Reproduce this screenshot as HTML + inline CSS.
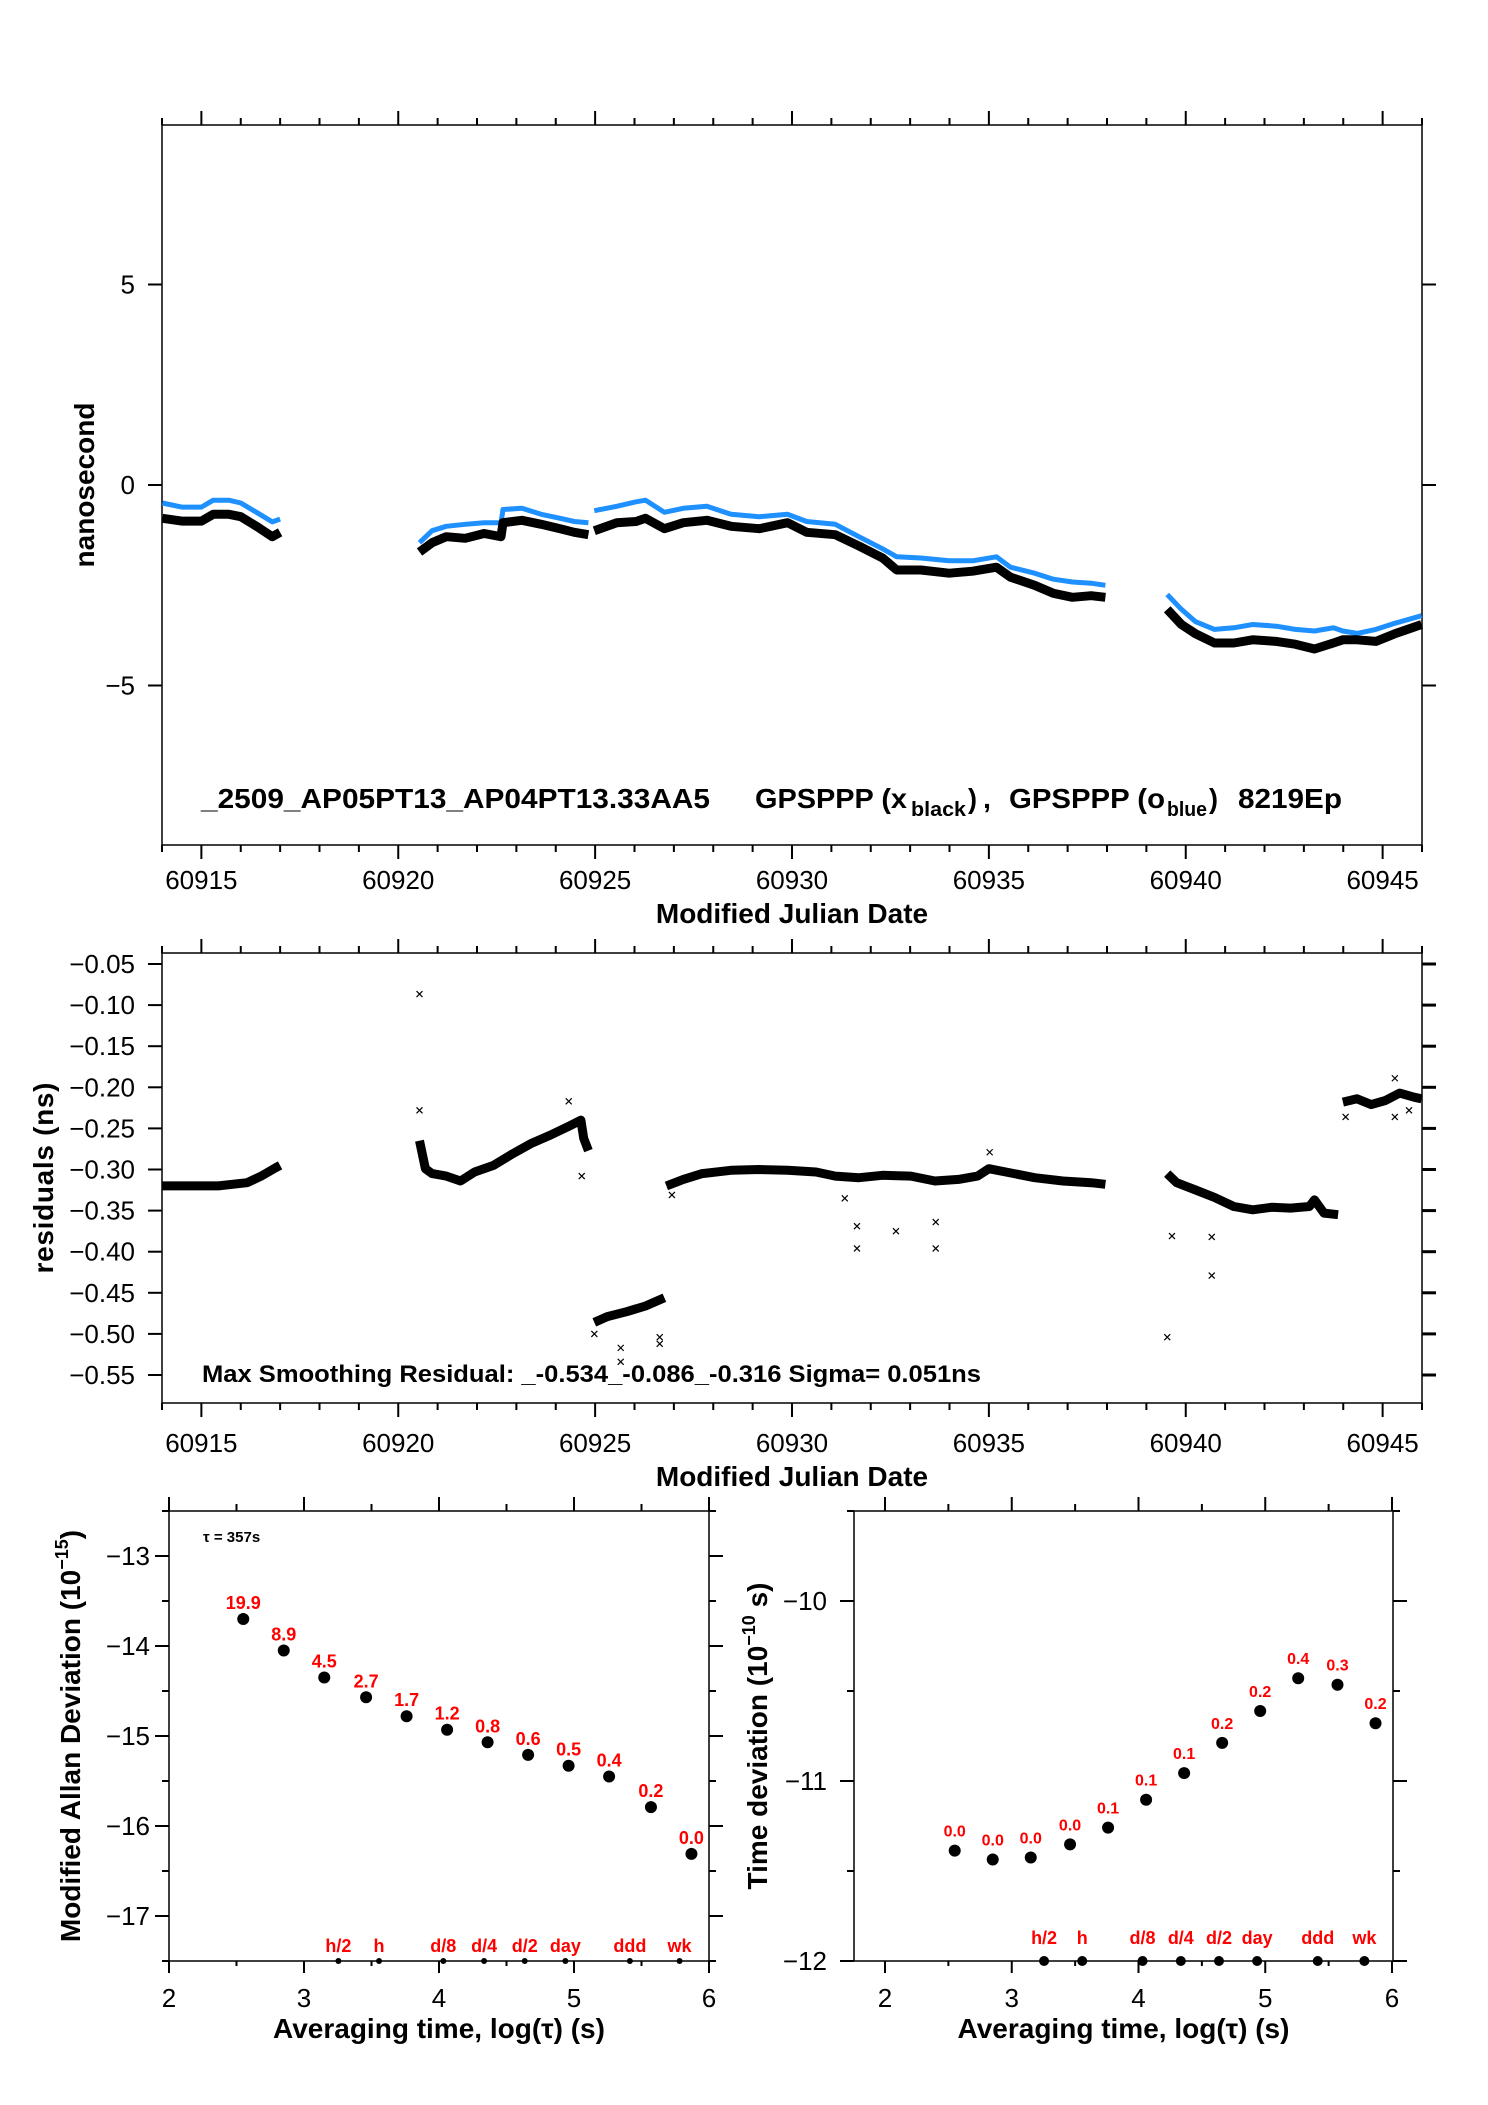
<!DOCTYPE html>
<html><head><meta charset="utf-8"><style>
html,body{margin:0;padding:0;background:#fff;}
svg{display:block;font-family:"Liberation Sans",Arial,sans-serif;}
</style></head><body>
<svg id="fig" width="1488" height="2105" viewBox="0 0 1488 2105" xmlns="http://www.w3.org/2000/svg">
<rect width="1488" height="2105" fill="#fff"/>
<g id="g1"></g>
<g id="g2"></g>
<g id="g3"></g>
<g id="g4"></g>
</svg>
<script>
// ---------- Top plot data (MJD, ns) ----------
const blackSeg1Mjd=[60914.01,60914.5,60915.0,60915.3,60915.7,60916.0,60916.4,60916.8,60917.0];
const blackSeg1Val=[-0.83,-0.90,-0.90,-0.73,-0.73,-0.79,-1.03,-1.29,-1.18];
const blueSeg1Val=[-0.45,-0.55,-0.55,-0.38,-0.38,-0.45,-0.68,-0.92,-0.85];
const blackSeg2Mjd=[60920.54,60920.86,60921.22,60921.70,60922.18,60922.61,60922.66,60923.14,60923.63,60924.11,60924.47,60924.83];
const blackSeg2Val=[-1.67,-1.44,-1.29,-1.33,-1.21,-1.29,-0.94,-0.88,-0.98,-1.09,-1.18,-1.24];
const blueSeg2Val=[-1.44,-1.14,-1.03,-0.98,-0.94,-0.94,-0.61,-0.58,-0.73,-0.83,-0.91,-0.94];
const blackSeg3Mjd=[60924.98,60925.55,60926.04,60926.28,60926.76,60927.24,60927.84,60928.45,60929.17,60929.89,60930.37,60931.10,60931.70,60932.30,60932.66,60933.27,60933.99,60934.59,60935.19,60935.55,60936.16,60936.64,60937.12,60937.60,60937.96];
const blackSeg3Val=[-1.14,-0.94,-0.91,-0.83,-1.09,-0.94,-0.88,-1.03,-1.09,-0.94,-1.18,-1.24,-1.52,-1.82,-2.12,-2.12,-2.20,-2.15,-2.05,-2.30,-2.50,-2.70,-2.80,-2.76,-2.80];
const blueSeg3Val=[-0.64,-0.53,-0.42,-0.38,-0.68,-0.58,-0.53,-0.73,-0.79,-0.73,-0.91,-0.98,-1.29,-1.59,-1.79,-1.82,-1.89,-1.89,-1.79,-2.05,-2.20,-2.35,-2.42,-2.45,-2.50];
const blackSeg4Mjd=[60939.53,60939.89,60940.25,60940.73,60941.22,60941.70,60942.30,60942.78,60943.27,60943.75,60943.99,60944.35,60944.83,60945.31,60945.99];
const blackSeg4Val=[-3.10,-3.48,-3.71,-3.94,-3.94,-3.86,-3.90,-3.97,-4.09,-3.94,-3.86,-3.86,-3.90,-3.71,-3.48];
const blueSeg4Val=[-2.73,-3.10,-3.41,-3.60,-3.56,-3.48,-3.52,-3.60,-3.64,-3.56,-3.64,-3.70,-3.60,-3.45,-3.26];
const topYTicks=[5,0,-5];
const mjdTickLabels=[60915,60920,60925,60930,60935,60940,60945];

// ---------- Residuals data ----------
const resSegMjd=[
 [60914.01,60915.43,60916.16,60916.52,60916.88,60917.0],
 [60920.54,60920.69,60920.86,60921.22,60921.58,60921.94,60922.42,60922.90,60923.39,60923.87,60924.35,60924.64,60924.71,60924.83],
 [60924.98,60925.31,60925.80,60926.28,60926.76],
 [60926.81,60927.24,60927.72,60928.45,60929.17,60929.89,60930.61,60931.10,60931.70,60932.30,60933.02,60933.63,60934.23,60934.71,60935.0,60935.43,60936.16,60936.88,60937.60,60937.96],
 [60939.53,60939.77,60940.25,60940.73,60941.22,60941.70,60942.18,60942.66,60943.14,60943.27,60943.51,60943.87],
 [60943.99,60944.35,60944.71,60945.07,60945.43,60945.80,60945.99]];
const resSegVal=[
 [-0.320,-0.320,-0.316,-0.308,-0.298,-0.295],
 [-0.265,-0.299,-0.305,-0.308,-0.314,-0.303,-0.295,-0.281,-0.268,-0.258,-0.247,-0.240,-0.262,-0.277],
 [-0.486,-0.479,-0.473,-0.466,-0.456],
 [-0.320,-0.312,-0.305,-0.301,-0.300,-0.301,-0.303,-0.308,-0.310,-0.307,-0.308,-0.314,-0.312,-0.308,-0.299,-0.303,-0.310,-0.314,-0.316,-0.318],
 [-0.305,-0.316,-0.325,-0.334,-0.345,-0.349,-0.346,-0.347,-0.345,-0.337,-0.353,-0.355],
 [-0.218,-0.214,-0.221,-0.216,-0.207,-0.212,-0.214]];
const outMjd=[60920.54,60920.54,60924.33,60924.66,60924.98,60925.65,60925.65,60926.64,60926.64,60931.34,60931.65,60931.65,60932.64,60933.65,60933.65,60939.53,60939.65,60940.66,60940.66,60945.31,60945.31,60945.67,60944.06,60926.95,60935.02];
const outVal=[-0.0866,-0.228,-0.217,-0.308,-0.500,-0.517,-0.534,-0.504,-0.512,-0.335,-0.369,-0.396,-0.375,-0.364,-0.396,-0.504,-0.381,-0.382,-0.429,-0.189,-0.236,-0.228,-0.236,-0.331,-0.279];
const resYTicks=[-0.05,-0.10,-0.15,-0.20,-0.25,-0.30,-0.35,-0.40,-0.45,-0.50,-0.55];

// ---------- Stability data ----------
const logTau=[2.55,2.85,3.15,3.46,3.76,4.06,4.36,4.66,4.96,5.26,5.57,5.87];
const mdevVal=[-13.70,-14.05,-14.35,-14.57,-14.78,-14.93,-15.07,-15.21,-15.33,-15.45,-15.79,-16.31];
const mdevLabels=["19.9","8.9","4.5","2.7","1.7","1.2","0.8","0.6","0.5","0.4","0.2","0.0"];
const tdevVal=[-11.387,-11.436,-11.425,-11.352,-11.259,-11.104,-10.956,-10.788,-10.611,-10.429,-10.465,-10.679];
const tdevLabels=["0.0","0.0","0.0","0.0","0.1","0.1","0.1","0.2","0.2","0.4","0.3","0.2"];
const markerNames=["h/2","h","d/8","d/4","d/2","day","ddd","wk"];
const markerLog=[3.255,3.556,4.032,4.334,4.635,4.936,5.414,5.782];
const mdevYTicks=[-13,-14,-15,-16,-17];
const tdevYTicks=[-10,-11,-12];
const logXTicks=[2,3,4,5,6];

const NS="http://www.w3.org/2000/svg";
function mk(parent,tag,attrs,txt){const e=document.createElementNS(NS,tag);for(const k in attrs)e.setAttribute(k,attrs[k]);if(txt!==undefined)e.textContent=txt;parent.appendChild(e);return e;}

const P1={l:162,r:1422,t:125,b:845,x:d=>162+(d-60914)*39.375,y:v=>485-v*40.1};
const P2={l:162,r:1422,t:953,b:1403,x:d=>162+(d-60914)*39.375,y:v=>964+(-0.05-v)*822};
const P3={l:169,r:709,t:1511,b:1961,x:l=>169+(l-2)*135,y:v=>1556+(-13-v)*90};
const P4={l:854,r:1393,t:1511,b:1961,x:l=>885+(l-2)*126.75,y:v=>1601+(-10-v)*180};

function frame(g,P){
  const f=mk(g,'rect',{x:P.l,y:P.t,width:P.r-P.l,height:P.b-P.t,fill:'none',stroke:'#000','stroke-width':1.5});
  
  
}
function tick(g,x1,y1,x2,y2,w){const t=mk(g,'line',{x1:x1,y1:y1,x2:x2,y2:y2,stroke:'#000','stroke-width':w||2});
  
  }
function txt(g,x,y,s,size,opts){const a={x:x,y:y,'font-size':size,fill:'#000'};Object.assign(a,opts||{});const t=mk(g,'text',a,s);return t;}

// ================= TOP PLOT =================
(function(){
  const g=document.getElementById('g1');const P=P1;
  frame(g,P);
  for(let d=60914;d<=60946;d++){const X=P.x(d);const maj=d%5===0;
    tick(g,X,P.t,X,P.t-(maj?14:7));tick(g,X,P.b,X,P.b+(maj?14:7));}
  topYTicks.forEach(v=>{const Y=P.y(v);tick(g,P.l,Y,P.l-14,Y);tick(g,P.r,Y,P.r+14,Y);
    const t=txt(g,135,Y+9,(v<0?'\u2212':'')+Math.abs(v),26,{'text-anchor':'end'});
    
    });
  mjdTickLabels.forEach(d=>{const t=txt(g,P.x(d),889,String(d),26,{'text-anchor':'middle'});
    
    });
  const xt=txt(g,792,923,'Modified Julian Date',28,{'text-anchor':'middle','font-weight':'bold'});
  
  
  const yt=txt(g,0,0,'nanosecond',28,{'text-anchor':'middle','font-weight':'bold',transform:'translate(94,485) rotate(-90)'});
  
  
  const segs=[[blackSeg1Mjd,blackSeg1Val,blueSeg1Val],[blackSeg2Mjd,blackSeg2Val,blueSeg2Val],[blackSeg3Mjd,blackSeg3Val,blueSeg3Val],[blackSeg4Mjd,blackSeg4Val,blueSeg4Val]];
  segs.forEach((s,i)=>{
    const pb=s[0].map((d,j)=>P.x(d).toFixed(1)+','+P.y(s[2][j]).toFixed(1)).join(' ');
    const lb=mk(g,'polyline',{points:pb,fill:'none',stroke:'#1e90ff','stroke-width':5,'stroke-linejoin':'round'});
    
    
    const pk=s[0].map((d,j)=>P.x(d).toFixed(1)+','+P.y(s[1][j]).toFixed(1)).join(' ');
    const lk=mk(g,'polyline',{points:pk,fill:'none',stroke:'#000','stroke-width':9,'stroke-linejoin':'round'});
    
    
  });
  const tt=mk(g,'text',{x:201,y:808,'font-size':28,'font-weight':'bold'});
  
  
  const parts=[[201,'_2509_AP05PT13_AP04PT13.33AA5',509,0,28],[755,'GPSPPP (x',152,0,28],[911,'black',55,8,20],[968,')',9,0,28],[983,',',8,0,28],[1009,'GPSPPP (o',156,0,28],[1167,'blue',40,8,20],[1209,')',9,0,28],[1238,'8219Ep',104,0,28]];
  parts.forEach(p=>{mk(tt,'tspan',{x:p[0],y:808+p[3],'font-size':p[4],textLength:p[2],lengthAdjust:'spacingAndGlyphs'},p[1]);});
})();

// ================= RESIDUALS =================
(function(){
  const g=document.getElementById('g2');const P=P2;
  frame(g,P);
  for(let d=60914;d<=60946;d++){const X=P.x(d);const maj=d%5===0;
    tick(g,X,P.t,X,P.t-(maj?14:7));tick(g,X,P.b,X,P.b+(maj?14:7));}
  resYTicks.forEach(v=>{const Y=P.y(v);tick(g,P.l,Y,P.l-14,Y);tick(g,P.r,Y,P.r+14,Y,3);
    const t=txt(g,135,Y+9,'\u2212'+Math.abs(v).toFixed(2),26,{'text-anchor':'end'});
    
    });
  mjdTickLabels.forEach(d=>{const t=txt(g,P.x(d),1452,String(d),26,{'text-anchor':'middle'});
    
    });
  const xt=txt(g,792,1486,'Modified Julian Date',28,{'text-anchor':'middle','font-weight':'bold'});
  
  
  const yt=txt(g,0,0,'residuals (ns)',28,{'text-anchor':'middle','font-weight':'bold',transform:'translate(53,1178) rotate(-90)',textLength:191,lengthAdjust:'spacing'});
  
  
  resSegMjd.forEach((s,i)=>{
    const pts=s.map((d,j)=>P.x(d).toFixed(1)+','+P.y(resSegVal[i][j]).toFixed(1)).join(' ');
    const l=mk(g,'polyline',{points:pts,fill:'none',stroke:'#000','stroke-width':9,'stroke-linejoin':'round'});
    
    
  });
  outMjd.forEach((d,i)=>{const X=P.x(d),Y=P.y(outVal[i]);
    const o=mk(g,'path',{d:`M${X-3},${Y-3}L${X+3},${Y+3}M${X-3},${Y+3}L${X+3},${Y-3}`,stroke:'#000','stroke-width':1.2});
    
    });
  const c=txt(g,202,1382,'Max Smoothing Residual: _-0.534_-0.086_-0.316  Sigma= 0.051ns',24,{'font-weight':'bold',textLength:779,lengthAdjust:'spacingAndGlyphs'});
  
  
})();

// ================= STABILITY PLOTS =================
function stab(gid,P,vals,labels,yticks,yMinor,labRight,labSize,labOff,dotR,markY,markDotR,title,titleX){
  const g=document.getElementById(gid);
  frame(g,P);
  for(let l=2;l<=6.001;l+=0.5){const X=P.x(l);if(X<P.l-1||X>P.r+1)continue;const maj=Math.abs(l-Math.round(l))<0.01;
    tick(g,X,P.t,X,P.t-(maj?14:7));tick(g,X,P.b,X,P.b+(maj?12:5));}
  yMinor.forEach(v=>{const Y=P.y(v);const maj=Math.abs(v-Math.round(v))<0.01;
    tick(g,P.l,Y,P.l-(maj?14:7),Y);tick(g,P.r,Y,P.r+(maj?14:7),Y);});
  yticks.forEach(v=>{const t=txt(g,labRight,P.y(v)+9,'\u2212'+Math.abs(v),26,{'text-anchor':'end'});
    
    });
  logXTicks.forEach(l=>{const t=txt(g,P.x(l),2007,String(l),26,{'text-anchor':'middle'});
    
    });
  const xt=txt(g,(P.l+P.r)/2,2038,'Averaging time, log(\u03c4) (s)',28,{'text-anchor':'middle','font-weight':'bold'});
  
  
  const yt=mk(g,'text',{x:0,y:0,'font-size':28,'font-weight':'bold','text-anchor':'middle',transform:`translate(${titleX},1736) rotate(-90)`});
  
  
  mk(yt,'tspan',{},title[0]);mk(yt,'tspan',{'font-size':18,dy:-12},title[1]);mk(yt,'tspan',{dy:12},title[2]);
  logTau.forEach((l,i)=>{const X=P.x(l),Y=P.y(vals[i]);
    const c=mk(g,'circle',{cx:X,cy:Y,r:dotR,fill:'#000'});
    
    
    const t=txt(g,X,Y-labOff,labels[i],labSize,{'text-anchor':'middle','font-weight':'bold',fill:'#ff0000'});
    
    });
  markerLog.forEach((l,i)=>{const X=P.x(l);
    const c=mk(g,'circle',{cx:X,cy:P.b,r:markDotR,fill:'#000'});
    
    
    const t=txt(g,X,markY,markerNames[i],18,{'text-anchor':'middle','font-weight':'bold',fill:'#ff0000'});
    
    });
}
stab('g3',P3,mdevVal,mdevLabels,mdevYTicks,[-12.5,-13,-13.5,-14,-14.5,-15,-15.5,-16,-16.5,-17,-17.5],150,18,10,6,1952,3,['Modified Allan Deviation (10','\u221215',')'],80);
stab('g4',P4,tdevVal,tdevLabels,tdevYTicks,[-9.5,-10,-10.5,-11,-11.5,-12],827,16,14,6,1944,5,['Time deviation (10','\u221210',' s)'],767);
(function(){const g=document.getElementById('g3');
  const t=txt(g,203,1542,'\u03c4 = 357s',15,{'font-weight':'bold'});
  
  })();
</script>
</body></html>
